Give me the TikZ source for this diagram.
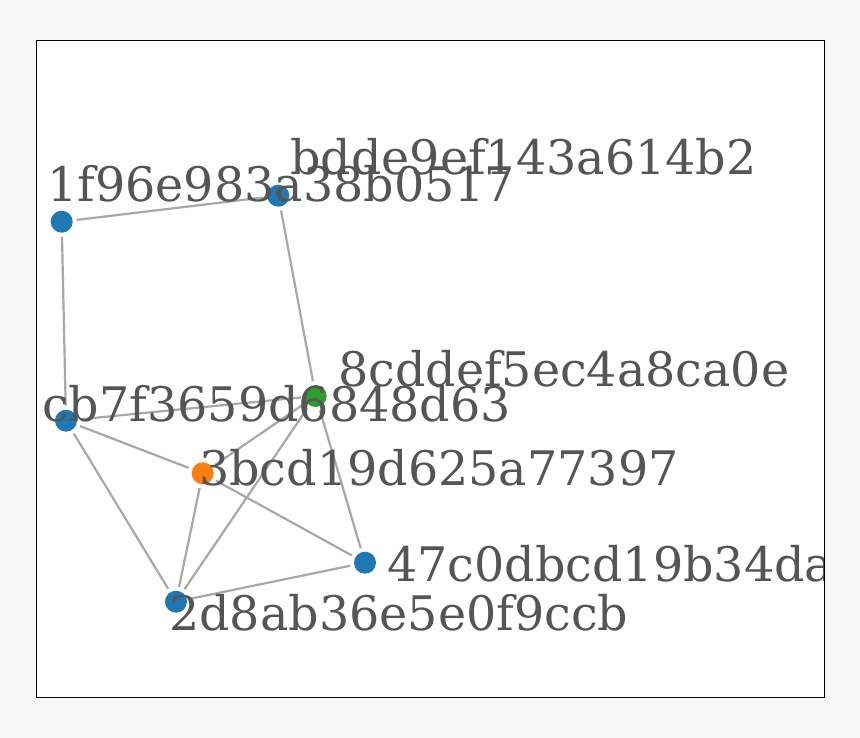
\documentclass[tikz,border=0pt]{standalone}
\usepackage{fontspec}
\setmainfont{DejaVu Serif}
\definecolor{bgc}{HTML}{F7F7F7}
\definecolor{tabblue}{HTML}{1F77B4}
\definecolor{taborange}{HTML}{FF7F0E}
\definecolor{tabgreen}{HTML}{2CA02C}
\definecolor{edgec}{HTML}{A8A8A8}
\definecolor{txtc}{HTML}{555555}
\tikzset{
  vert/.style={circle, inner sep=0pt, outer sep=4pt, minimum size=22pt, fill=#1},
  edge/.style={draw=edgec, line width=2.2pt},
  lbl/.style={anchor=base west, inner sep=0pt, text=txtc, font=\fontsize{47.6}{52}\selectfont}
}
\begin{document}
\begin{tikzpicture}[x=1pt,y=-1pt]
\fill[bgc] (0,0) rectangle (860,738);
\useasboundingbox (0,0) rectangle (860,738);
\fill[white] (36,41) rectangle (824,697);
\node[vert=tabblue] (a) at (61.7,221.7) {};
\node[vert=tabblue] (b) at (278.3,195.7) {};
\node[vert=tabgreen] (c) at (315.7,396) {};
\node[vert=tabblue] (d) at (66,420.7) {};
\node[vert=taborange] (e) at (202.7,473.3) {};
\node[vert=tabblue] (f) at (365,562.7) {};
\node[vert=tabblue] (g) at (176,601.7) {};
\path[edge] (a) -- (b);
\path[edge] (a) -- (d);
\path[edge] (b) -- (c);
\path[edge] (d) -- (c);
\path[edge] (d) -- (e);
\path[edge] (d) -- (g);
\path[edge] (c) -- (e);
\path[edge] (c) -- (g);
\path[edge] (c) -- (f);
\path[edge] (e) -- (f);
\path[edge] (e) -- (g);
\path[edge] (g) -- (f);
\begin{scope}
\clip (36,41) rectangle (824,697);
\node[lbl] (la) at (47,201.7) {1f96e983a38b0517};
\node[lbl] (lb) at (290,175) {bdde9ef143a614b2};
\node[lbl] (lc) at (338,386.7) {8cddef5ec4a8ca0e};
\node[lbl] (ld) at (42,421.7) {cb7f3659d6848d63};
\node[lbl] (le) at (199,485) {3bcd19d625a77397};
\node[lbl] (lf) at (387,581) {47c0dbcd19b34da5};
\node[lbl] (lg) at (169,630) {2d8ab36e5e0f9ccb};
\end{scope}
\draw[black, line width=1pt] (36,41) rectangle (824,697);
\end{tikzpicture}
\end{document}
